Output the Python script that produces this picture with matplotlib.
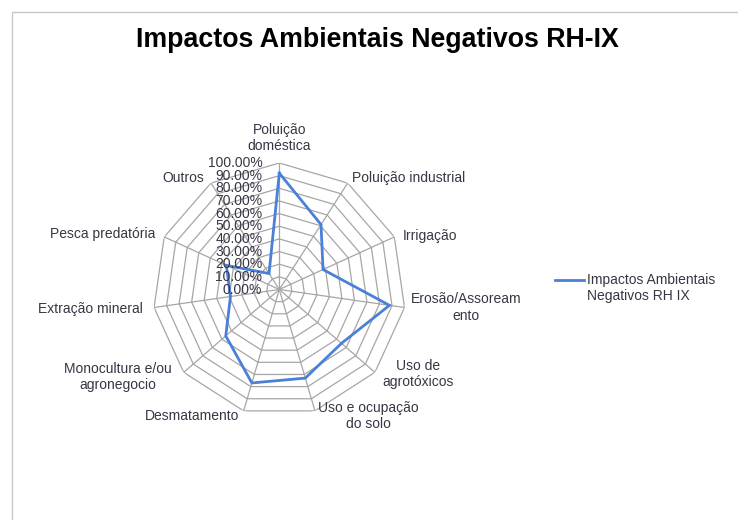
import numpy as np
import matplotlib
matplotlib.use("Agg")
import matplotlib.pyplot as plt
from matplotlib.lines import Line2D
from matplotlib.patches import Rectangle

plt.rcParams['font.family'] = ['Liberation Sans', 'DejaVu Sans']

title = "Impactos Ambientais Negativos RH-IX"
series_name = "Impactos Ambientais\nNegativos RH IX"
categories = [
    "Poluição\ndoméstica",
    "Poluição industrial",
    "Irrigação",
    "Erosão/Assoream\nento",
    "Uso de\nagrotóxicos",
    "Uso e ocupação\ndo solo",
    "Desmatamento",
    "Monocultura e/ou\nagronegocio",
    "Extração mineral",
    "Pesca predatória",
    "Outros",
]
values = [0.92, 0.61, 0.38, 0.88, 0.65, 0.73, 0.77, 0.56, 0.39, 0.46, 0.15]
rticks = [0.0, 0.1, 0.2, 0.3, 0.4, 0.5, 0.6, 0.7, 0.8, 0.9, 1.0]
rtick_labels = ["0.00%", "10.00%", "20.00%", "30.00%", "40.00%", "50.00%",
                "60.00%", "70.00%", "80.00%", "90.00%", "100.00%"]

W, H = 738, 520
fig = plt.figure(figsize=(W / 100, H / 100), dpi=100)
fig.patch.set_facecolor('white')

# outer chart frame
fig.patches.append(Rectangle((12 / W, -0.1), 1.2, (H - 12) / H + 0.1,
                             transform=fig.transFigure, fill=False,
                             edgecolor='#c8c8c8', linewidth=1.0))

cx, cy, R = 279.3, 289.5, 126.5
ax = fig.add_axes([(cx - R) / W, (H - cy - R) / H, 2 * R / W, 2 * R / H],
                  projection='polar')
ax.set_theta_offset(np.pi / 2)
ax.set_theta_direction(-1)
ax.set_ylim(0, 1)
ax.grid(False)
ax.set_xticks([])
ax.set_yticks([])
ax.spines['polar'].set_visible(False)
ax.patch.set_alpha(0)

n = len(categories)
theta = np.arange(n) * 2 * np.pi / n
theta_c = np.append(theta, theta[0])

grid_col = '#a6a6a6'
for r in rticks[1:]:
    ax.plot(theta_c, np.full(n + 1, r), color=grid_col, lw=0.9, zorder=1)
for t in theta:
    ax.plot([t, t], [0, 1], color=grid_col, lw=0.9, zorder=1)

line_col = '#4a80d8'
vals_c = np.append(values, values[0])
ax.plot(theta_c, vals_c, color=line_col, lw=2.0, zorder=3,
        solid_joinstyle='miter')

txt_col = '#3a3444'
px = 72 / 100.0
offsets = [
    (0, 25, 'center', 'center'),
    (4, 5, 'left', 'center'),
    (8, 1, 'left', 'center'),
    (6, 0, 'left', 'center'),
    (7, -2, 'left', 'center'),
    (3, -5, 'left', 'center'),
    (-4, -5, 'right', 'center'),
    (-12, -5, 'right', 'center'),
    (-11, -1.5, 'right', 'center'),
    (-9, 3, 'right', 'center'),
    (-7, 5, 'right', 'center'),
]
for t, lab, (dx, dy, ha, va) in zip(theta, categories, offsets):
    ax.annotate(lab, xy=(t, 1.0), xytext=(dx * px, dy * px),
                textcoords='offset points', ha=ha, va=va,
                multialignment='center', fontsize=10, color=txt_col,
                annotation_clip=False)

for r, lab in zip(rticks, rtick_labels):
    ax.annotate(lab, xy=(0, r), xytext=(-17 * px, 0),
                textcoords='offset points', ha='right', va='center',
                fontsize=10, color=txt_col, annotation_clip=False)

fig.text(377 / W, 1 - 40 / H, title, ha='center', va='center',
         fontsize=19.3, fontweight='bold', color='black')

# legend (handle aligned with first text line, as in the reference)
ly = 1 - 280 / H
fig.add_artist(Line2D([555 / W, 584 / W], [ly, ly], color=line_col, lw=2.0,
                      transform=fig.transFigure))
fig.text(587 / W, ly + 7 / H, series_name, ha='left', va='top',
         fontsize=10, color=txt_col, linespacing=1.15)

fig.savefig('out.png', dpi=100)
